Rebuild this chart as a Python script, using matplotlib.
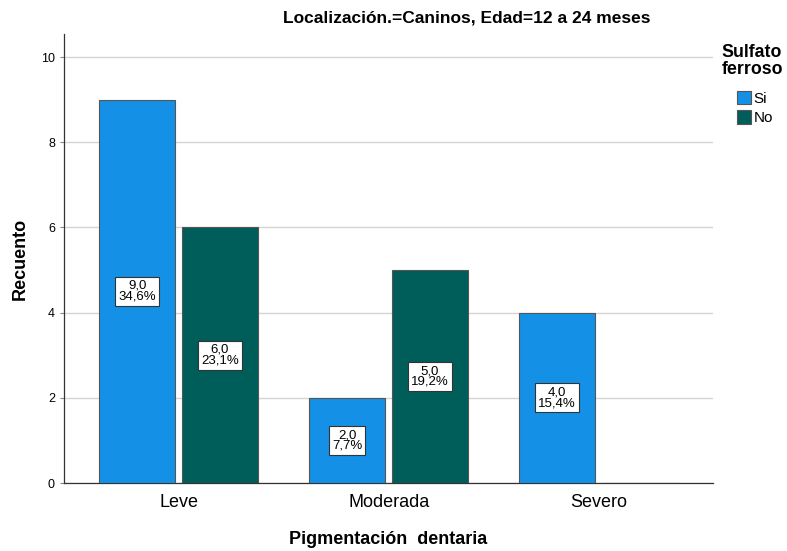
import numpy as np
import matplotlib.pyplot as plt

plt.rcParams['font.family'] = ['Liberation Sans', 'DejaVu Sans']

categories  = ['Leve', 'Moderada', 'Severo']
series      = ['Si', 'No']
counts_si   = [9, 2, 4]
counts_no   = [6, 5, 0]
pct_si      = ['34,6%', '7,7%', '15,4%']
pct_no      = ['23,1%', '19,2%', '']
colors      = ['#1491E6', '#005E5A']

fig = plt.figure(figsize=(7.87, 5.51), dpi=100)
ax  = fig.add_axes([64/787, 68/551, 649/787, 449/551])

x     = np.arange(len(categories))
width = 0.36
offs  = [-0.2, 0.195]

for vals, pcts, off, col, name in zip([counts_si, counts_no], [pct_si, pct_no], offs, colors, series):
    bars = ax.bar(x + off, vals, width, color=col, edgecolor='#555555', linewidth=0.8, label=name, zorder=3)
    for b, v, p in zip(bars, vals, pcts):
        if v == 0:
            continue
        ax.text(b.get_x() + b.get_width()/2, v/2, '%d,0\n%s' % (v, p),
                ha='center', va='center', fontsize=9.5, linespacing=0.85, zorder=4,
                bbox=dict(boxstyle='square,pad=0.25', fc='white', ec='#333333', lw=0.8))

ax.set_xlim(-0.548, 2.543)
ax.set_ylim(0, 10.54)
ax.set_yticks([0, 2, 4, 6, 8, 10])
ax.set_xticks(x)
ax.set_xticklabels(categories, fontsize=13)
ax.tick_params(axis='y', labelsize=9, length=3, color='#888888')
ax.tick_params(axis='x', length=0, pad=8)
ax.yaxis.grid(True, color='#d4d4d4', linewidth=1, zorder=0)
for s in ['top', 'right']:
    ax.spines[s].set_visible(False)
for s in ['left', 'bottom']:
    ax.spines[s].set_color('#333333')
    ax.spines[s].set_linewidth(0.9)

ax.set_ylabel('Recuento', fontsize=13, fontweight='bold', labelpad=9)
ax.set_xlabel('Pigmentación  dentaria', fontsize=13, fontweight='bold', labelpad=14)

fig.text(467/787, 1 - 18/551, 'Localización.=Caninos, Edad=12 a 24 meses',
         ha='center', va='center', fontsize=12.5, fontweight='bold')

fig.text(752/787, 1 - 61/551, 'Sulfato\nferroso', ha='center', va='center',
         fontsize=12.8, fontweight='bold', linespacing=0.95)
leg = ax.legend(loc='upper left', bbox_to_anchor=(729/787, 1 - 83/551), bbox_transform=fig.transFigure,
                frameon=False, fontsize=11, handlelength=0.95, handleheight=1.0,
                handletextpad=0.15, labelspacing=0.3, borderpad=0)

fig.savefig('out.png', dpi=100)
